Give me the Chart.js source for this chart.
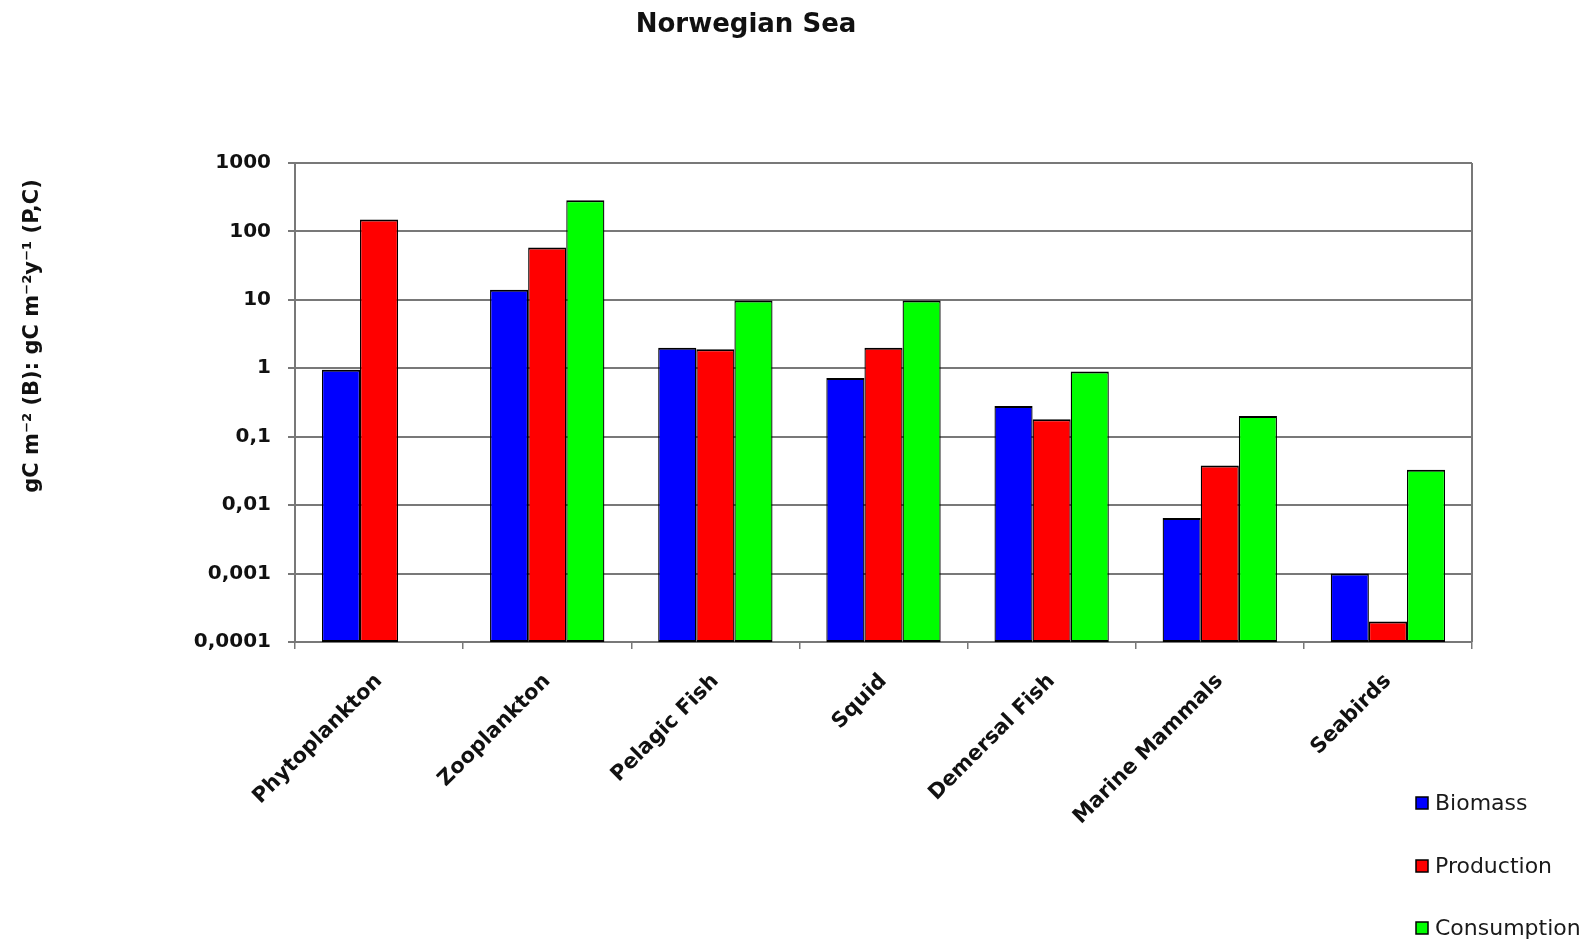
<!DOCTYPE html>
<html>
<head>
<meta charset="utf-8">
<title>Norwegian Sea</title>
<script src="https://cdn.jsdelivr.net/npm/chart.js@4.4.1/dist/chart.umd.min.js"></script>
<style>
  html, body { margin: 0; padding: 0; background: #ffffff; }
  #wrap { width: 1595px; height: 941px; }
</style>
</head>
<body>
<div id="wrap"><canvas id="chart" width="1595" height="941"></canvas></div>
<script>
// Functional groups of the Norwegian Sea ecosystem
const categories = ['Phytoplankton', 'Zooplankton', 'Pelagic Fish', 'Squid', 'Demersal Fish', 'Marine Mammals', 'Seabirds'];

// gC m-2
const biomass = [0.95, 14, 2.0, 0.72, 0.28, 0.0065, 0.001];
// gC m-2 y-1
const production = [150, 58, 1.9, 2.0, 0.18, 0.038, 0.0002];
// gC m-2 y-1 (no consumption for primary producers)
const consumption = [null, 285, 9.8, 9.8, 0.9, 0.2, 0.033];

const seriesNames = ['Biomass', 'Production', 'Consumption'];
const seriesColors = ['#0000ff', '#ff0000', '#00ff00'];

// Logarithmic axis: one tick per decade, decimal comma
const tickValues = [0.0001, 0.001, 0.01, 0.1, 1, 10, 100, 1000];
const tickLabels = ['0,0001', '0,001', '0,01', '0,1', '1', '10', '100', '1000'];

const chartTitle = 'Norwegian Sea';
const yTitle = 'gC m\u207B\u00B2 (B): gC m\u207B\u00B2y\u207B\u00B9 (P,C)';

const FONT = '"DejaVu Sans", "Liberation Sans", Arial, sans-serif';
const GRID = '#787878';

// Title, rotated axis title, frame edge and the stacked legend
const decorations = {
  id: 'decorations',
  afterDraw(chart) {
    const ctx = chart.ctx;
    const area = chart.chartArea;
    ctx.save();

    // right edge of the plot frame
    ctx.strokeStyle = GRID;
    ctx.lineWidth = 2;
    ctx.beginPath();
    ctx.moveTo(area.right, area.top);
    ctx.lineTo(area.right, area.bottom);
    ctx.stroke();

    // chart title
    ctx.fillStyle = '#111111';
    ctx.font = 'bold 26px ' + FONT;
    ctx.textAlign = 'center';
    ctx.textBaseline = 'middle';
    ctx.fillText(chartTitle, 746, 25);

    // y axis title
    ctx.save();
    ctx.translate(33, 336);
    ctx.rotate(-Math.PI / 2);
    ctx.font = 'bold 21px ' + FONT;
    ctx.fillStyle = '#111111';
    ctx.textAlign = 'center';
    ctx.textBaseline = 'middle';
    ctx.fillText(yTitle, 0, 0);
    ctx.restore();

    // legend, one entry per row
    const rows = [803, 866, 928];
    chart.data.datasets.forEach((ds, i) => {
      const y = rows[i];
      ctx.fillStyle = ds.backgroundColor;
      ctx.fillRect(1416, y - 6, 12, 12);
      ctx.strokeStyle = '#000000';
      ctx.lineWidth = 1.5;
      ctx.strokeRect(1416, y - 6, 12, 12);
      ctx.fillStyle = '#1a1a1a';
      ctx.font = '22px ' + FONT;
      ctx.textAlign = 'left';
      ctx.textBaseline = 'middle';
      ctx.fillText(ds.label, 1435, y + 1);
    });

    ctx.restore();
  }
};

const values = [biomass, production, consumption];

new Chart(document.getElementById('chart'), {
  type: 'bar',
  data: {
    labels: categories,
    datasets: seriesNames.map((name, i) => ({
      label: name,
      data: values[i],
      backgroundColor: seriesColors[i],
      borderColor: '#000000',
      borderWidth: { top: 2, bottom: 2, left: 1.3, right: 1.3 },
      borderSkipped: false,
      barPercentage: 1.0,
      categoryPercentage: 0.68
    }))
  },
  options: {
    responsive: false,
    animation: false,
    devicePixelRatio: 1,
    layout: { padding: { top: 163, right: 123, left: 0, bottom: 0 } },
    plugins: {
      legend: { display: false },
      title: { display: false },
      tooltip: { enabled: false }
    },
    scales: {
      x: {
        grid: {
          offset: true,
          drawOnChartArea: false,
          color: GRID,
          lineWidth: 1.5,
          tickLength: 7
        },
        border: { color: GRID, width: 2 },
        ticks: {
          color: '#111111',
          font: { family: FONT, size: 21, weight: 'bold' },
          maxRotation: 45,
          minRotation: 45,
          padding: 20
        },
        afterFit(scale) { scale.height = 299; }
      },
      y: {
        type: 'logarithmic',
        min: 0.0001,
        max: 1000,
        afterBuildTicks(scale) {
          scale.ticks = tickValues.map(v => ({ value: v }));
        },
        afterFit(scale) { scale.width = 295; },
        grid: { color: GRID, lineWidth: 2, tickLength: 7 },
        border: { color: GRID, width: 2 },
        ticks: {
          color: '#111111',
          font: { family: FONT, size: 20, weight: 'bold' },
          padding: 17,
          callback(value) {
            const i = tickValues.findIndex(v => Math.abs(v - value) / v < 1e-6);
            return i >= 0 ? tickLabels[i] : '';
          }
        }
      }
    }
  },
  plugins: [decorations]
});
</script>
</body>
</html>
